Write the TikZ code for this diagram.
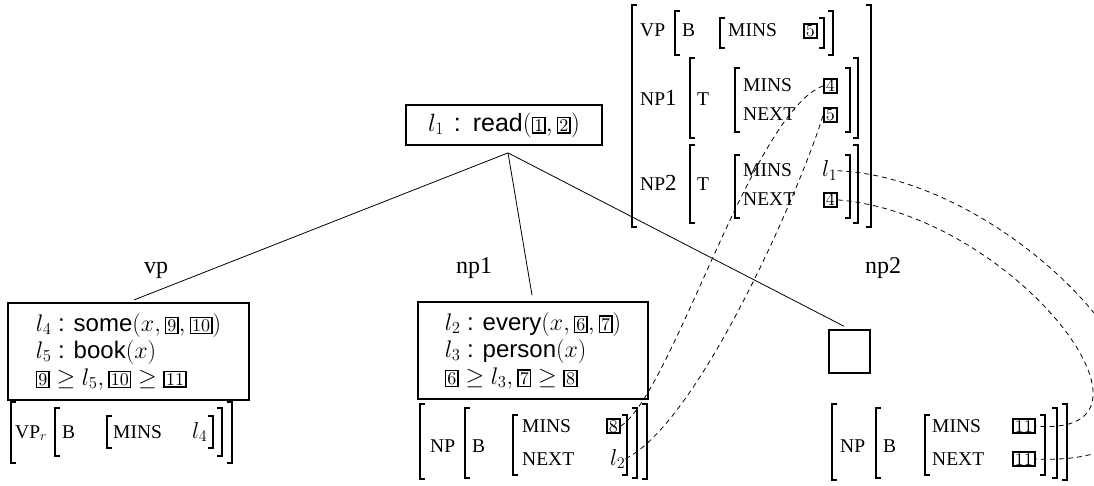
\RequirePackage{fix-cm}
\documentclass[tikz,border=0pt]{standalone}
\usepackage[no-math]{fontspec}
\setmainfont{Liberation Serif}
\newfontfamily\hvfont{Liberation Sans}
\newfontfamily\lmfont[Extension=.otf]{lmroman10-regular}
\usepackage{tikz}

\newcommand\bx[1]{{\setlength\fboxsep{1pt}\setlength\fboxrule{1.6pt}\fbox{\fontsize{18}{18}\selectfont\lmfont #1}}}
\newcommand\lb[4][]{\draw[brk,#1] (#2+5,#3) -| (#2,#4) -- ++(5,0);}
\newcommand\rb[4][]{\draw[brk,#1] (#2-5,#3) -| (#2,#4) -- ++(-5,0);}
\newcommand\bigd[1]{{\fontsize{23}{23}\selectfont #1}}

\tikzset{
  brk/.style={line width=1.1pt},
  outer/.style={line width=1.7pt},
  lbl/.style={font=\fontsize{24}{24}\selectfont, anchor=base},
  ft/.style={font=\fontsize{19.5}{20}\selectfont, anchor=base west, inner sep=0pt},
  num/.style={draw, line width=1.6pt, inner xsep=2pt, inner ysep=0.8pt, font=\fontsize{18}{18}\selectfont\lmfont, anchor=base west},
  val/.style={font=\fontsize{23}{23}\selectfont, anchor=base west, inner sep=0pt},
  sem/.style={draw, line width=1.8pt, align=left, font=\fontsize{24}{27}\selectfont\hvfont},
  edge/.style={line width=0.8pt, shorten >=6pt},
  link/.style={dash pattern=on 5pt off 4pt, line width=0.8pt},
}

\begin{document}
\begin{tikzpicture}[x=1pt,y=-1pt]
      \clip (0,0) rectangle (1094,486);
      \node[sem, font=\fontsize{25}{27}\selectfont\hvfont, minimum width=196pt, minimum height=40pt] (root) at (504,125) {$l_1$\hspace{10pt}:\hspace{12pt}read$(\bx1, \bx2)$};
      \coordinate (apex) at ([xshift=4pt,yshift=-7pt]root.south);
      \node[sem, minimum width=241pt, minimum height=97pt] (vpsem) at (128.5,351.5) {$l_4$ : some$(x, \bx9, \bx{10})$\\ $l_5$ : book$(x)$\\ $\bx9 \geq l_5, \bx{10} \geq \bx{11}$};
      \node[sem, minimum width=230pt, minimum height=97pt] (npsem) at (533,350.5) {$l_2$ : every$(x, \bx6, \bx7)$\\ $l_3$ : person$(x)$\\ $\bx6 \geq l_3, \bx7 \geq \bx8$};
      \node[draw, line width=1.8pt, minimum width=41pt, minimum height=43pt] (sq) at (849.5,351.5) {};
      \draw[edge] (apex) -- (vpsem.north);
      \draw[edge] (apex) -- (npsem.north);
      \draw[edge] (apex) -- (sq.north);
      \node[lbl] (lvp) at (156,273) {vp};
      \node[lbl] (lnp1) at (474,273) {np1};
      \node[lbl] (lnp2) at (883,273) {np2};

      \lb[outer]{632}{5}{227}
      \rb[outer]{871}{5}{227}
      \node[ft] (tvp) at (640,37) {VP};
      \lb{675}{11}{55}
      \node[ft] (tb) at (682,37) {B};
      \lb{720}{18}{48}
      \node[ft] (tm0) at (728,37) {MINS};
      \node[num] (t5) at (803,37) {5};
      \rb{824}{18}{48}
      \rb{833}{11}{55}
      \node[ft] (tnp1) at (640,106) {NP\bigd{1}};
      \lb{690}{58}{138}
      \node[ft] (tt1) at (697,106) {T};
      \lb{735}{68}{132}
      \node[ft] (tm1) at (743,92) {MINS};
      \node[ft] (tn1) at (743,121) {NEXT};
      \node[num] (t4a) at (823,92) {4};
      \node[num] (t5b) at (823,121) {5};
      \rb{850}{68}{132}
      \rb{858}{58}{138}
      \node[ft] (tnp2) at (640,191) {NP\bigd{2}};
      \lb{690}{145}{223}
      \node[ft] (tt2) at (697,191) {T};
      \lb{735}{155}{218}
      \node[ft] (tm2) at (743,177) {MINS};
      \node[ft] (tn2) at (743,206) {NEXT};
      \node[val] (tl1) at (822,177) {$l_1$};
      \node[num] (t4b) at (823,206) {4};
      \rb{850}{155}{218}
      \rb{858}{145}{223}

      \lb[outer]{11}{402}{463}
      \rb[outer]{232}{402}{463}
      \node[ft] (vvp) at (15,438) {VP$_r$};
      \lb{55}{408}{456}
      \node[ft] (vb) at (62,438) {B};
      \lb{107}{416}{448}
      \node[ft] (vm) at (113,438) {MINS};
      \node[val] (vl4) at (192,438) {$l_4$};
      \rb{213}{416}{448}
      \rb{222}{408}{456}

      \lb[outer]{420}{404}{479}
      \rb[outer]{647}{404}{479}
      \node[ft] (mnp) at (430,452) {NP};
      \lb{465}{408}{478}
      \node[ft] (mb) at (472,452) {B};
      \lb{513}{415}{475}
      \node[ft] (mm) at (522,432) {MINS};
      \node[ft] (mn) at (522,465) {NEXT};
      \node[num] (m8) at (606,432) {8};
      \node[val] (ml2) at (610,465) {$l_2$};
      \rb{627}{415}{475}
      \rb{637}{408}{478}

      \lb[outer]{832}{404}{480}
      \rb[outer]{1067}{404}{480}
      \node[ft] (rnp) at (840,452) {NP};
      \lb{876}{408}{478}
      \node[ft] (rbb) at (883,452) {B};
      \lb{925}{415}{475}
      \node[ft] (rm) at (932,432) {MINS};
      \node[ft] (rn) at (932,465) {NEXT};
      \node[num] (r11a) at (1012,432) {11};
      \node[num] (r11b) at (1012,465) {11};
      \rb{1045}{415}{475}
      \rb{1057}{408}{478}

      \draw[link] (m8.east) .. controls +(52,-34) and +(-71,27) .. (t4a.west);
      \draw[link] (ml2.east) .. controls +(76,-38) and +(-18,62) .. (t5b.west);
      \draw[link] (t4b.east) .. controls +(177,14) and +(150,13) .. (r11a.east);
      \draw[link] (tl1.east) .. controls +(198,8) and +(240,10) .. (r11b.east);
    \end{tikzpicture}
\end{document}
